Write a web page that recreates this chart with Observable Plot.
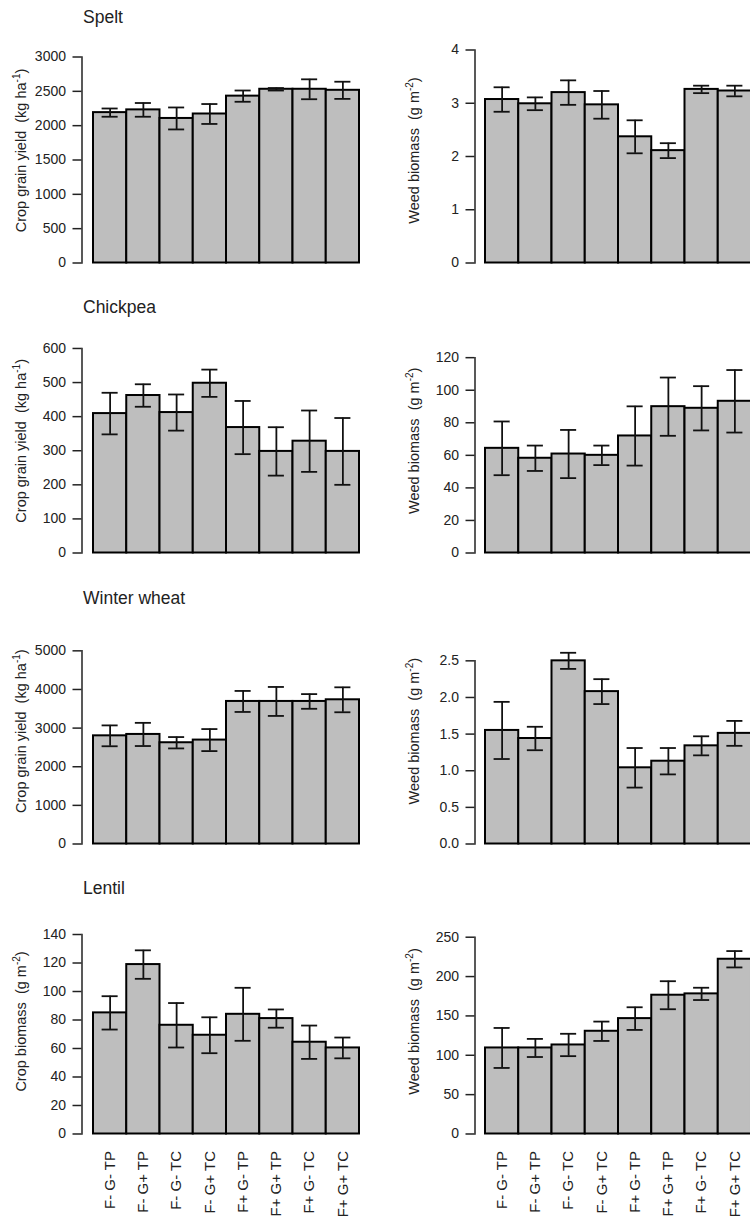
<!DOCTYPE html>
<html><head><meta charset="utf-8">
<script src="https://cdn.jsdelivr.net/npm/d3@7"></script>
<script src="https://cdn.jsdelivr.net/npm/@observablehq/plot@0.6"></script>
<style>
html,body{margin:0;padding:0;background:#fff;}
#page{position:relative;width:750px;height:1220px;overflow:hidden;background:#fff;font-family:"Liberation Sans",Arial,sans-serif;}
#page svg{position:absolute;}
</style></head><body><div id="page"></div>
<script>
// ---------- data ----------
const treatments = ["F- G- TP", "F- G+ TP", "F- G- TC", "F- G+ TC", "F+ G- TP", "F+ G+ TP", "F+ G- TC", "F+ G+ TC"];
const crops = ["Spelt", "Chickpea", "Winter wheat", "Lentil"];

const speltYield   = [2190, 2230, 2105, 2170, 2430, 2530, 2530, 2515];
const speltYieldSE = [60, 100, 160, 145, 82, 18, 145, 125];
const speltWeed    = [3.07, 2.99, 3.20, 2.97, 2.37, 2.11, 3.26, 3.23];
const speltWeedSE  = [0.23, 0.12, 0.23, 0.26, 0.31, 0.14, 0.07, 0.10];

const chickpeaYield   = [409, 462, 412, 498, 368, 298, 328, 298];
const chickpeaYieldSE = [61, 33, 53, 40, 78, 71, 90, 98];
const chickpeaWeed    = [64.3, 58.2, 60.8, 60.0, 71.9, 89.9, 88.9, 93.2];
const chickpeaWeedSE  = [16.5, 7.8, 14.8, 6.0, 18.2, 17.9, 13.6, 19.2];

const wheatYield   = [2800, 2836, 2621, 2690, 3690, 3690, 3690, 3733];
const wheatYieldSE = [270, 300, 147, 285, 272, 375, 190, 323];
const wheatWeed    = [1.55, 1.44, 2.50, 2.08, 1.04, 1.13, 1.34, 1.51];
const wheatWeedSE  = [0.39, 0.16, 0.11, 0.17, 0.27, 0.18, 0.13, 0.17];

const lentilBiomass   = [85.0, 118.9, 76.3, 69.3, 84.0, 81.0, 64.4, 60.4];
const lentilBiomassSE = [11.7, 10.0, 15.6, 12.6, 18.6, 6.4, 11.7, 7.3];
const lentilWeed      = [109.3, 109.3, 113.1, 130.5, 146.6, 176.3, 178.0, 222.0];
const lentilWeedSE    = [25.4, 11.5, 14.2, 12.3, 14.4, 17.8, 7.8, 10.4];

const leftTicks  = [[0,500,1000,1500,2000,2500,3000],[0,100,200,300,400,500,600],[0,1000,2000,3000,4000,5000],[0,20,40,60,80,100,120,140]];
const rightTicks = [[0,1,2,3,4],[0,20,40,60,80,100,120],[0,0.5,1.0,1.5,2.0,2.5],[0,50,100,150,200,250]];

const leftLabels  = [["Crop grain yield  (kg ha","-1",")"],["Crop grain yield  (kg ha","-1",")"],["Crop grain yield  (kg ha","-1",")"],["Crop biomass  (g m","-2",")"]];
const rightLabels = [["Weed biomass  (g m","-2",")"],["Weed biomass  (g m","-2",")"],["Weed biomass  (g m","-2",")"],["Weed biomass  (g m","-2",")"]];

const leftMeans  = [speltYield, chickpeaYield, wheatYield, lentilBiomass];
const leftSEs    = [speltYieldSE, chickpeaYieldSE, wheatYieldSE, lentilBiomassSE];
const rightMeans = [speltWeed, chickpeaWeed, wheatWeed, lentilWeed];
const rightSEs   = [speltWeedSE, chickpeaWeedSE, wheatWeedSE, lentilWeedSE];
const rightFormats = [d3.format("d"), d3.format("d"), d3.format(".1f"), d3.format("d")];

// ---------- layout ----------
const page = document.getElementById("page");
const font = "'Liberation Sans', Arial, sans-serif";
const rowPitch = 290.33;
const zeroY = k => 262.5 + k * rowPitch;
const leftTopPx  = [56.5, 348.3, 650, 934];
const rightTopPx = [49.5, 357.5, 660, 936.7];
const cols = [
  {left: 0,   width: 375, axisX: 81.5, bar0: 93,  bar1: 359},
  {left: 375, width: 375, axisX: 99.5, bar0: 110, bar1: 376}
];

function panel(col, k, topPx, ticks, fmt, means, ses) {
  const top = k * rowPitch;
  const height = k === 3 ? 1220 - top : 290;
  const y0 = zeroY(k);
  const data = treatments.map((t, i) => ({t, m: means[i], lo: means[i] - ses[i], hi: means[i] + ses[i]}));
  const showX = k === 3;
  const svg = Plot.plot({
    width: col.width, height,
    marginLeft: col.axisX, marginRight: 0,
    marginTop: topPx - top, marginBottom: top + height - y0,
    style: {fontFamily: font, fontSize: "14px", color: "#222", background: "transparent"},
    x: {type: "band", domain: treatments, range: [col.bar0, col.bar1], padding: 0, round: false, axis: null},
    y: {domain: [0, ticks[ticks.length - 1]], axis: null},
    marks: [
      Plot.barY(data, {x: "t", y: "m", fill: "#bebebe", stroke: "#000", strokeWidth: 2, inset: 0}),
      Plot.ruleX(data, {x: "t", y1: "lo", y2: "hi", stroke: "#111", strokeWidth: 1.8}),
      Plot.tickY(data, {x: "t", y: "lo", stroke: "#111", strokeWidth: 1.8, insetLeft: 8.6, insetRight: 8.6}),
      Plot.tickY(data, {x: "t", y: "hi", stroke: "#111", strokeWidth: 1.8, insetLeft: 8.6, insetRight: 8.6}),
      Plot.frame({anchor: "left", stroke: "#222", strokeWidth: 1.5}),
      Plot.axisY({ticks, tickFormat: fmt, tickSize: 9, tickPadding: 7, label: null, fontSize: 14, strokeWidth: 1.5, color: "#222"}),
      showX ? Plot.axisX({tickRotate: -90, tickSize: 0, tickPadding: 17, label: null, fontSize: 15, color: "#222"}) : null
    ]
  });
  svg.style.left = col.left + "px";
  svg.style.top = top + "px";
  page.appendChild(svg);
}

for (let k = 0; k < 4; k++) {
  panel(cols[0], k, leftTopPx[k], leftTicks[k], d3.format("d"), leftMeans[k], leftSEs[k]);
  panel(cols[1], k, rightTopPx[k], rightTicks[k], rightFormats[k], rightMeans[k], rightSEs[k]);
}

// ---------- titles and axis labels ----------
const ov = d3.select(page).append("svg")
  .attr("width", 750).attr("height", 1220)
  .style("left", "0px").style("top", "0px")
  .style("pointer-events", "none")
  .attr("font-family", font).attr("fill", "#222");

crops.forEach((c, k) => {
  ov.append("text").attr("x", 83).attr("y", 23 + k * rowPitch)
    .attr("font-size", 17.5).text(c);
});

function yLabel(x, y, parts) {
  const t = ov.append("text")
    .attr("transform", `translate(${x},${y}) rotate(-90)`)
    .attr("text-anchor", "middle").attr("font-size", 14.5)
    .style("white-space", "pre");
  t.append("tspan").text(parts[0]);
  t.append("tspan").attr("font-size", 10).attr("dy", -6).text(parts[1]);
  t.append("tspan").attr("dy", 6).text(parts[2]);
}
for (let k = 0; k < 4; k++) {
  const cy = zeroY(k) - 112;
  yLabel(26, cy, leftLabels[k]);
  yLabel(418.5, cy, rightLabels[k]);
}
</script>
</body></html>
